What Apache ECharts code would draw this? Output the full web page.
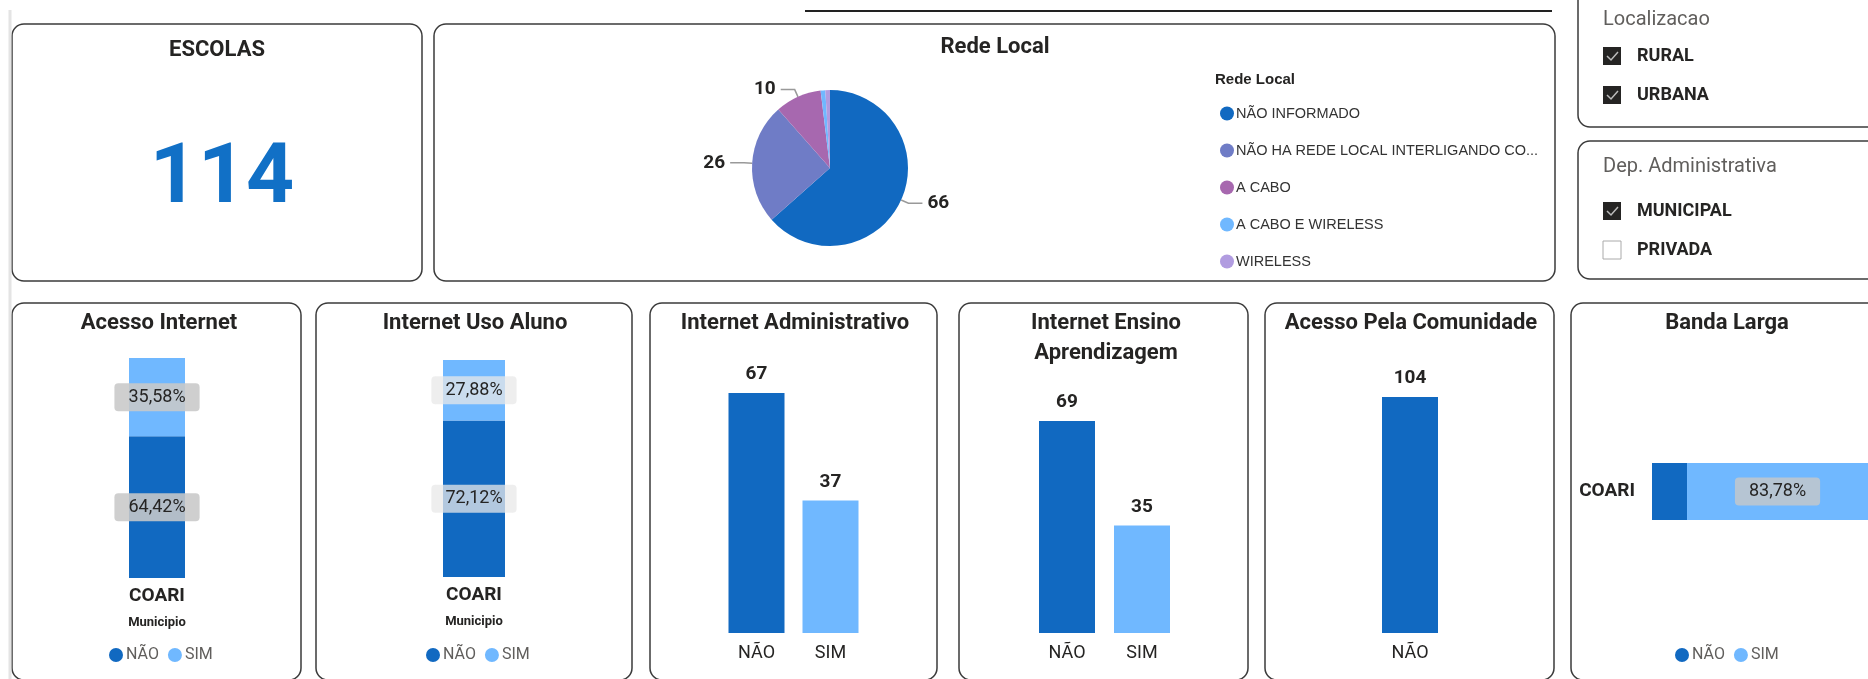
<!DOCTYPE html>
<html>
<head>
<meta charset="utf-8">
<script src="https://cdn.jsdelivr.net/npm/echarts@6/dist/echarts.min.js"></script>
<style>
  html, body { margin: 0; padding: 0; background: #fff; }
  #chart-wrapper { width: 1868px; height: 679px; }
</style>
</head>
<body>
<div id="chart-wrapper"></div>
<script>
// ---- data ----
const escolasTotal = 114;
const redeLocalNames = ["NÃO INFORMADO", "NÃO HA REDE LOCAL INTERLIGANDO COMPUTADORES", "A CABO", "A CABO E WIRELESS", "WIRELESS"];
const redeLocalValues = [66, 26, 10, 1, 1];
const simNao = ["NÃO", "SIM"];
const municipio = ["COARI"];
const acessoInternet = [67, 37];   // NÃO, SIM
const usoAluno = [75, 29];
const administrativo = [67, 37];
const ensino = [69, 35];
const comunidadeCats = ["NÃO"];
const comunidade = [104];
const bandaLarga = [6, 31];
const localizacaoItems = ["RURAL", "URBANA"];
const localizacaoChecked = [true, true];
const depAdmItems = ["MUNICIPAL", "PRIVADA"];
const depAdmChecked = [true, false];

// ---- style ----
const DARK = "#1169C1";
const LIGHT = "#70B8FF";
const pieColors = ["#1169C1", "#6F7CC6", "#A768AF", "#70B8FF", "#B19CE0"];
const NARROW = 'Roboto, "Liberation Sans", sans-serif';
const SANS = '"Liberation Sans", "DejaVu Sans", sans-serif';
const INK = "#252423";
const GREY = "#605E5C";

const sum = (arr) => arr.reduce((a, b) => a + b, 0);
const pct = (v, total) => (v / total * 100).toFixed(2).replace(".", ",") + "%";

const chartDom = document.getElementById("chart-wrapper");
const chart = echarts.init(chartDom);

// ---- cards / static texts ----
const cards = [
  [12, 24, 410, 257], [434, 24, 1121, 257], [1578, -40, 400, 167], [1578, 141, 400, 138],
  [12, 303, 289, 377], [316, 303, 316, 377], [650, 303, 287, 377], [959, 303, 289, 377],
  [1265, 303, 289, 377], [1571, 303, 400, 377],
];
const graphics = [];
cards.forEach((c) => {
  graphics.push({
    type: "rect", z: 0, silent: true,
    shape: { x: c[0], y: c[1], width: c[2], height: c[3], r: 12 },
    style: { fill: "transparent", stroke: "#3b3b3b", lineWidth: 1.5 },
  });
});
graphics.push({ type: "line", shape: { x1: 805, y1: 11, x2: 1552, y2: 11 }, style: { stroke: "#222", lineWidth: 2 } });
graphics.push({ type: "line", shape: { x1: 10, y1: 10, x2: 10, y2: 679 }, style: { stroke: "#e4e4e4", lineWidth: 3 } });

const addText = (text, x, y, font, fill, align) => {
  graphics.push({
    type: "text", z: 10,
    style: { text, x, y, font, fill: fill || INK, align: align || "center", verticalAlign: "middle" },
  });
};
const titleFont = "bold 22px " + NARROW;
addText("ESCOLAS", 217, 50, titleFont);
addText(String(escolasTotal), 222, 181, "bold 84px " + NARROW, "#1170C6");
addText("Rede Local", 995, 47, titleFont);
addText("Rede Local", 1215, 80, "bold 15px " + SANS, INK, "left");
addText("Acesso Internet", 159, 323, titleFont);
addText("Internet Uso Aluno", 475, 323, titleFont);
addText("Internet Administrativo", 795, 323, titleFont);
addText("Internet Ensino", 1106, 323, titleFont);
addText("Aprendizagem", 1106, 353, titleFont);
addText("Acesso Pela Comunidade", 1411, 323, titleFont);
addText("Banda Larga", 1727, 323, titleFont);
addText("Localizacao", 1603, 20, "20px " + NARROW, GREY, "left");
addText("Dep. Administrativa", 1603, 167, "20px " + NARROW, GREY, "left");

const addChecks = (items, checked, y0) => {
  items.forEach((name, i) => {
    const cy = y0 + i * 39;
    graphics.push({
      type: "rect", shape: { x: 1603, y: cy - 9, width: 18, height: 18 },
      style: checked[i] ? { fill: INK } : { fill: "#fff", stroke: "#aaa", lineWidth: 1 },
    });
    if (checked[i]) {
      graphics.push({
        type: "polyline", shape: { points: [[1607, cy], [1611, cy + 4], [1618, cy - 4]] },
        style: { stroke: "#bbb", lineWidth: 1.5, fill: null },
      });
    }
    addText(name, 1637, cy, "bold 18px " + NARROW, INK, "left");
  });
};
addChecks(localizacaoItems, localizacaoChecked, 56);
addChecks(depAdmItems, depAdmChecked, 211);

// ---- axes helpers ----
const hiddenValue = (gridIndex, max) => ({
  type: "value", gridIndex, show: false, min: 0, max, splitLine: { show: false },
});
const catAxis = (gridIndex, data, extra) => Object.assign({
  type: "category", gridIndex, data,
  axisLine: { show: false }, axisTick: { show: false }, splitLine: { show: false },
  axisLabel: { color: INK, fontSize: 18, fontFamily: NARROW, margin: 11 },
}, extra || {});

const pctLabel = (total, bg) => ({
  show: true, position: "inside",
  formatter: (p) => pct(p.value, total),
  backgroundColor: bg, borderRadius: 4, padding: [5, 14],
  color: INK, fontSize: 18, fontFamily: NARROW,
});
const valueLabel = {
  show: true, position: "top", distance: 9,
  color: INK, fontSize: 19, fontWeight: "bold", fontFamily: NARROW,
};
const coloredBars = (values) => values.map((v, i) => ({ value: v, itemStyle: { color: i === 0 ? DARK : LIGHT } }));

const municipioAxis = (gridIndex) => catAxis(gridIndex, municipio, {
  axisLabel: { color: INK, fontSize: 19, fontWeight: "bold", fontFamily: NARROW, margin: 9 },
  name: "Municipio", nameLocation: "middle", nameGap: 38,
  nameTextStyle: { color: INK, fontSize: 13, fontWeight: "bold", fontFamily: NARROW },
});

const legendAt = (left) => ({
  left, top: 642, data: simNao, icon: "circle", itemWidth: 14, itemHeight: 14, itemGap: 9,
  textStyle: { color: GREY, fontSize: 16, fontFamily: NARROW, padding: [0, 0, 0, -2] },
});

const option = {
  animation: false,
  backgroundColor: "#fff",
  graphic: { elements: graphics },
  grid: [
    { left: 129, top: 358, width: 56, height: 220, outerBoundsMode: "none" },
    { left: 443, top: 360, width: 62, height: 217, outerBoundsMode: "none" },
    { left: 719.5, top: 393, width: 148, height: 240, outerBoundsMode: "none" },
    { left: 1029.5, top: 421, width: 150, height: 212, outerBoundsMode: "none" },
    { left: 1382, top: 397, width: 56, height: 236, outerBoundsMode: "none" },
    { left: 1652, top: 463, width: 216, height: 57, outerBoundsMode: "none" },
  ],
  xAxis: [
    municipioAxis(0),
    municipioAxis(1),
    catAxis(2, simNao),
    catAxis(3, simNao),
    catAxis(4, comunidadeCats),
    hiddenValue(5, sum(bandaLarga)),
  ],
  yAxis: [
    hiddenValue(0, sum(acessoInternet)),
    hiddenValue(1, sum(usoAluno)),
    hiddenValue(2, "dataMax"),
    hiddenValue(3, "dataMax"),
    hiddenValue(4, "dataMax"),
    catAxis(5, municipio, {
      axisLabel: { color: INK, fontSize: 19, fontWeight: "bold", fontFamily: NARROW, margin: 17 },
    }),
  ],
  legend: [
    {
      orient: "vertical", left: 1215, top: 101, data: redeLocalNames,
      icon: "circle", itemWidth: 14, itemHeight: 14, itemGap: 22,
      formatter: (name) => (name.length > 35 ? name.slice(0, 33) + "..." : name),
      textStyle: { color: "#333", fontSize: 14.5, fontFamily: SANS, padding: [0, 0, 0, -3] },
    },
    legendAt(104),
    legendAt(421),
    legendAt(1670),
  ],
  series: [
    {
      name: "Rede Local", type: "pie", center: [830, 168], radius: 78,
      startAngle: 90, clockwise: true, avoidLabelOverlap: false,
      itemStyle: { borderWidth: 0 },
      label: { formatter: "{c}", color: INK, fontSize: 19, fontWeight: "bold", fontFamily: NARROW },
      labelLine: { length: 8, length2: 14, lineStyle: { color: "#999", width: 1.5 } },
      data: redeLocalNames.map((n, i) => ({
        name: n, value: redeLocalValues[i],
        itemStyle: { color: pieColors[i] },
        label: { show: redeLocalValues[i] >= 5 },
        labelLine: { show: redeLocalValues[i] >= 5 },
      })),
    },
    // Acesso Internet
    { name: "NÃO", type: "bar", xAxisIndex: 0, yAxisIndex: 0, stack: "ai", barWidth: "100%",
      itemStyle: { color: DARK }, data: [acessoInternet[0]],
      label: pctLabel(sum(acessoInternet), "rgba(200,200,200,0.88)") },
    { name: "SIM", type: "bar", xAxisIndex: 0, yAxisIndex: 0, stack: "ai", barWidth: "100%",
      itemStyle: { color: LIGHT }, data: [acessoInternet[1]],
      label: pctLabel(sum(acessoInternet), "rgba(200,200,200,0.88)") },
    // Internet Uso Aluno
    { name: "NÃO", type: "bar", xAxisIndex: 1, yAxisIndex: 1, stack: "ua", barWidth: "100%",
      itemStyle: { color: DARK }, data: [usoAluno[0]],
      label: pctLabel(sum(usoAluno), "rgba(232,232,232,0.75)") },
    { name: "SIM", type: "bar", xAxisIndex: 1, yAxisIndex: 1, stack: "ua", barWidth: "100%",
      itemStyle: { color: LIGHT }, data: [usoAluno[1]],
      label: pctLabel(sum(usoAluno), "rgba(232,232,232,0.75)") },
    // Internet Administrativo
    { name: "Internet Administrativo", type: "bar", xAxisIndex: 2, yAxisIndex: 2, barWidth: 56,
      data: coloredBars(administrativo), label: valueLabel },
    // Internet Ensino Aprendizagem
    { name: "Internet Ensino Aprendizagem", type: "bar", xAxisIndex: 3, yAxisIndex: 3, barWidth: 56,
      data: coloredBars(ensino), label: valueLabel },
    // Acesso Pela Comunidade
    { name: "Acesso Pela Comunidade", type: "bar", xAxisIndex: 4, yAxisIndex: 4, barWidth: "100%",
      data: coloredBars(comunidade), label: valueLabel },
    // Banda Larga
    { name: "NÃO", type: "bar", xAxisIndex: 5, yAxisIndex: 5, stack: "bl", barWidth: "100%",
      itemStyle: { color: DARK }, data: [bandaLarga[0]], label: { show: false } },
    { name: "SIM", type: "bar", xAxisIndex: 5, yAxisIndex: 5, stack: "bl", barWidth: "100%",
      itemStyle: { color: LIGHT }, data: [bandaLarga[1]],
      label: pctLabel(sum(bandaLarga), "rgba(200,200,200,0.8)") },
  ],
};
chart.setOption(option);
</script>
</body>
</html>
